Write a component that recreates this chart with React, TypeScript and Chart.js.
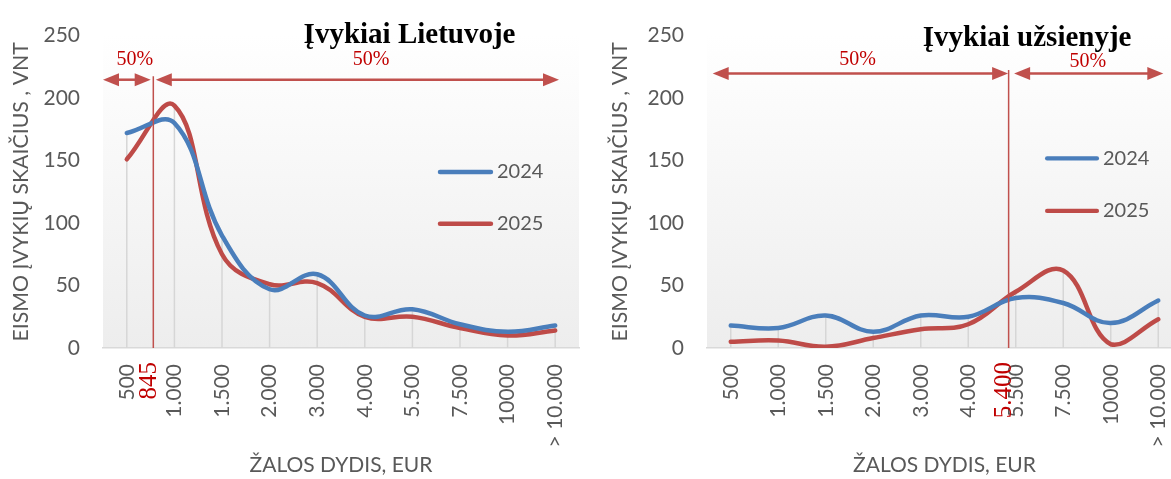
import React, { useEffect, useRef } from 'react';
import { Chart, registerables } from 'chart.js';

Chart.register(...registerables);

// ---------- data ----------
const categories = ['500', '1.000', '1.500', '2.000', '3.000', '4.000', '5.500', '7.500', '10000', '> 10.000'];
const seriesNames = ['2024', '2025'];
const ltValues2024 = [172, 180, 90, 47, 59, 26, 31, 19, 13, 18];
const ltValues2025 = [151, 194, 75, 51, 52, 25, 25, 16, 10, 14];
const abValues2024 = [18, 16, 26, 13, 26, 25, 40, 36, 20, 38];
const abValues2025 = [5, 6, 1, 8, 15, 19, 45, 62, 3, 23];
const panelTitles = ['Įvykiai Lietuvoje', 'Įvykiai užsienyje'];
const medianLabels = ['845', '5.400'];
const shareLabel = '50%';
const yAxisTitle = 'EISMO ĮVYKIŲ SKAIČIUS , VNT';
const xAxisTitle = 'ŽALOS DYDIS, EUR';
const yMin = 0;
const yMax = 250;
const yStep = 50;

// ---------- styles ----------
const BLUE = '#4a7ebb';
const RED = '#be4b48';
const MARK = '#c0504d';
const LABEL_RED = '#c00000';
const GREY_TEXT = '#595959';
const H = 479;

type PanelCfg = {
  left: number;
  width: number;
  values: number[][];
  title: string;
  titlePos: [number, number];
  yAxisWidth: number;
  rightPad: number;
  yTitlePad: number;
  median: number;
  medianLabel: string;
  arrowValue: number;
  leftArrowFrom: number;
  leftArrowGap: number;
  rightArrowTo: number;
  rightArrowGap: number;
  shareAt: [number, number][];
  legendFrom: number;
  legendTo: number;
  legendY: number[];
  legendWidth: number;
};

const panels: PanelCfg[] = [
  {
    left: 0,
    width: 590,
    values: [ltValues2024, ltValues2025],
    title: panelTitles[0],
    titlePos: [5.94, 244.3],
    yAxisWidth: 103,
    rightPad: 11,
    yTitlePad: 8,
    median: 0.557,
    medianLabel: medianLabels[0],
    arrowValue: 214.7,
    leftArrowFrom: -0.5,
    leftArrowGap: 2.6,
    rightArrowTo: 9.08,
    rightArrowGap: 2.5,
    shareAt: [[0.17, 230.3], [5.13, 230.3]],
    legendFrom: 6.58,
    legendTo: 7.65,
    legendY: [140.9, 99.4],
    legendWidth: 4.5,
  },
  {
    left: 595,
    width: 600,
    values: [abValues2024, abValues2025],
    title: panelTitles[1],
    titlePos: [6.24, 241.7],
    yAxisWidth: 112,
    rightPad: 13,
    yTitlePad: 12,
    median: 5.85,
    medianLabel: medianLabels[1],
    arrowValue: 219.6,
    leftArrowFrom: -0.38,
    leftArrowGap: 0.5,
    rightArrowTo: 9.106,
    rightArrowGap: 5.5,
    shareAt: [[2.67, 230.7], [7.52, 228.7]],
    legendFrom: 6.66,
    legendTo: 7.71,
    legendY: [151.7, 109.7],
    legendWidth: 4.2,
  },
];

function drawArrow(ctx: CanvasRenderingContext2D, x1: number, x2: number, yy: number) {
  const hl = 16;
  const hw = 6.5;
  ctx.beginPath();
  ctx.moveTo(x1 + hl - 1, yy);
  ctx.lineTo(x2 - hl + 1, yy);
  ctx.stroke();
  ctx.beginPath();
  ctx.moveTo(x1, yy);
  ctx.lineTo(x1 + hl, yy - hw);
  ctx.lineTo(x1 + hl, yy + hw);
  ctx.closePath();
  ctx.fill();
  ctx.beginPath();
  ctx.moveTo(x2, yy);
  ctx.lineTo(x2 - hl, yy - hw);
  ctx.lineTo(x2 - hl, yy + hw);
  ctx.closePath();
  ctx.fill();
}

function makeDecor(cfg: PanelCfg) {
  return {
    id: 'decor',
    beforeDraw(chart: any) {
      const { ctx, chartArea: a } = chart;
      ctx.save();
      ctx.fillStyle = '#ffffff';
      ctx.fillRect(0, 0, chart.width, chart.height);
      const g = ctx.createLinearGradient(0, a.top, 0, a.bottom);
      g.addColorStop(0, '#ffffff');
      g.addColorStop(1, '#ededed');
      ctx.fillStyle = g;
      ctx.fillRect(a.left, a.top, a.right - a.left, a.bottom - a.top);
      ctx.restore();
    },
    beforeDatasetsDraw(chart: any) {
      const { ctx, chartArea: a, scales } = chart;
      const x = scales.x;
      const y = scales.y;
      ctx.save();
      ctx.strokeStyle = '#d6d6d6';
      ctx.lineWidth = 1.5;
      categories.forEach((_, i) => {
        const top = Math.max(...chart.data.datasets.map((d: any) => d.data[i]));
        const px = x.getPixelForValue(i);
        ctx.beginPath();
        ctx.moveTo(px, y.getPixelForValue(top));
        ctx.lineTo(px, a.bottom);
        ctx.stroke();
      });
      ctx.restore();
    },
    afterDatasetsDraw(chart: any) {
      const { ctx, chartArea: a, scales } = chart;
      const x = scales.x;
      const y = scales.y;
      const mx = x.getPixelForValue(cfg.median);
      const ay = y.getPixelForValue(cfg.arrowValue);
      ctx.save();
      // median line
      ctx.strokeStyle = MARK;
      ctx.lineWidth = 1.5;
      ctx.beginPath();
      ctx.moveTo(mx, ay - 3.5);
      ctx.lineTo(mx, a.bottom);
      ctx.stroke();
      // arrows
      ctx.lineWidth = 2.5;
      ctx.fillStyle = MARK;
      drawArrow(ctx, x.getPixelForValue(cfg.leftArrowFrom), mx - cfg.leftArrowGap, ay);
      drawArrow(ctx, mx + cfg.rightArrowGap, x.getPixelForValue(cfg.rightArrowTo), ay);
      // 50% labels
      ctx.fillStyle = LABEL_RED;
      ctx.font = '20px "Liberation Serif"';
      ctx.textAlign = 'center';
      ctx.textBaseline = 'middle';
      cfg.shareAt.forEach(([i, v]) => {
        ctx.fillText(shareLabel, x.getPixelForValue(i), y.getPixelForValue(v));
      });
      // median label (rotated)
      ctx.save();
      ctx.translate(mx - 4, a.bottom + 14);
      ctx.rotate(-Math.PI / 2);
      ctx.font = '25px "Liberation Serif"';
      ctx.textAlign = 'right';
      ctx.textBaseline = 'middle';
      ctx.fillText(cfg.medianLabel, 0, 0);
      ctx.restore();
      // title
      ctx.fillStyle = '#000000';
      ctx.font = 'bold 29px "Liberation Serif"';
      ctx.textAlign = 'center';
      ctx.textBaseline = 'alphabetic';
      ctx.fillText(cfg.title, x.getPixelForValue(cfg.titlePos[0]), y.getPixelForValue(cfg.titlePos[1]));
      // legend
      const colors = [BLUE, RED];
      const lx1 = x.getPixelForValue(cfg.legendFrom);
      const lx2 = x.getPixelForValue(cfg.legendTo);
      ctx.font = '20px Lato';
      ctx.textAlign = 'left';
      ctx.textBaseline = 'middle';
      seriesNames.forEach((name, k) => {
        const ly = y.getPixelForValue(cfg.legendY[k]);
        ctx.strokeStyle = colors[k];
        ctx.lineWidth = cfg.legendWidth;
        ctx.lineCap = 'round';
        ctx.beginPath();
        ctx.moveTo(lx1, ly);
        ctx.lineTo(lx2, ly);
        ctx.stroke();
        ctx.fillStyle = GREY_TEXT;
        ctx.fillText(name, lx2 + 6, ly);
      });
      ctx.restore();
    },
  };
}

function Panel({ cfg }: { cfg: PanelCfg }) {
  const ref = useRef<HTMLCanvasElement>(null);
  useEffect(() => {
    const canvas = ref.current;
    if (!canvas) return;
    const chart = new Chart(canvas, {
      type: 'line',
      data: {
        labels: categories,
        datasets: seriesNames.map((name, k) => ({
          label: name,
          data: cfg.values[k],
          borderColor: k === 0 ? BLUE : RED,
          backgroundColor: k === 0 ? BLUE : RED,
          borderWidth: 4.5,
          borderCapStyle: 'round',
          borderJoinStyle: 'round',
          tension: 0.4,
          pointRadius: 0,
          pointHoverRadius: 0,
          fill: false,
        })),
      },
      options: {
        animation: false,
        responsive: false,
        devicePixelRatio: 1,
        events: [],
        layout: { padding: { top: 31, left: 0, right: cfg.rightPad, bottom: 0 } },
        plugins: {
          legend: { display: false },
          tooltip: { enabled: false },
          title: { display: false },
        },
        scales: {
          x: {
            type: 'category',
            offset: true,
            grid: { display: false, drawTicks: false },
            border: { display: true, color: '#d9d9d9', width: 1.5 },
            ticks: {
              autoSkip: false,
              minRotation: 90,
              maxRotation: 90,
              padding: 16,
              color: GREY_TEXT,
              font: { size: 21, family: 'Lato' },
            },
            title: {
              display: true,
              text: xAxisTitle,
              color: GREY_TEXT,
              font: { size: 21, family: 'Lato' },
              padding: { top: 0, bottom: 1 },
            },
            afterFit: (s: any) => {
              s.height = 131;
              s.paddingLeft = 0;
              s.paddingRight = 0;
            },
          },
          y: {
            min: yMin,
            max: yMax,
            grid: { display: false, drawTicks: false },
            border: { display: false },
            ticks: {
              stepSize: yStep,
              padding: 23,
              color: GREY_TEXT,
              font: { size: 21, family: 'Lato' },
            },
            title: {
              display: true,
              text: yAxisTitle,
              color: GREY_TEXT,
              font: { size: 21.3, family: 'Lato' },
              padding: { top: cfg.yTitlePad, bottom: 0 },
            },
            afterFit: (s: any) => {
              s.width = cfg.yAxisWidth;
            },
          },
        },
      } as any,
      plugins: [makeDecor(cfg)],
    });
    return () => chart.destroy();
  }, [cfg]);
  return (
    <canvas
      ref={ref}
      width={cfg.width}
      height={H}
      style={{ position: 'absolute', left: cfg.left, top: 0, width: cfg.width, height: H, display: 'block' }}
    />
  );
}

export default function App() {
  return (
    <div
      style={{
        position: 'absolute',
        left: 0,
        top: 0,
        width: 1171,
        height: H,
        overflow: 'hidden',
        background: '#ffffff',
      }}
    >
      {panels.map((p, i) => (
        <Panel key={i} cfg={p} />
      ))}
    </div>
  );
}
